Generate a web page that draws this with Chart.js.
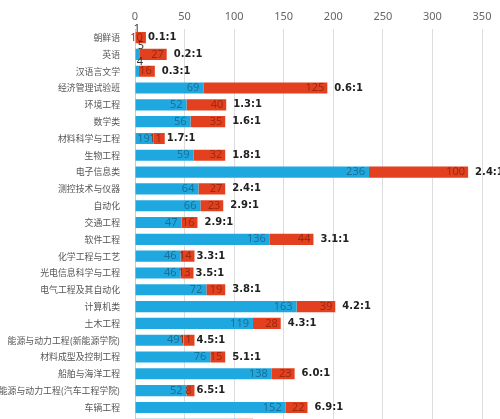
<!DOCTYPE html>
<html><head><meta charset="utf-8">
<script src="https://cdn.jsdelivr.net/npm/chart.js@4"></script>
<style>html,body{margin:0;padding:0;overflow:hidden;background:#fff;width:500px;height:419px}#w{width:500px;height:445px;position:relative}</style>
</head><body><div id="w"><canvas id="c"></canvas></div>
<script>
const categories=["朝鲜语","英语","汉语言文学","经济管理试验班","环境工程","数学类","材料科学与工程","生物工程","电子信息类","测控技术与仪器","自动化","交通工程","软件工程","化学工程与工艺","光电信息科学与工程","电气工程及其自动化","计算机类","土木工程","能源与动力工程(新能源学院)","材料成型及控制工程","船舶与海洋工程","能源与动力工程(汽车工程学院)","车辆工程","焊接技术与工程"];
const blueValues=[1,5,4,69,52,56,19,59,236,64,66,47,136,46,46,72,163,119,49,76,138,52,152,103];
const redValues=[10,27,16,125,40,35,11,32,100,27,23,16,44,14,13,19,39,28,11,15,23,8,22,16];
const ratioLabels=["0.1:1","0.2:1","0.3:1","0.6:1","1.3:1","1.6:1","1.7:1","1.8:1","2.4:1","2.4:1","2.9:1","2.9:1","3.1:1","3.3:1","3.5:1","3.8:1","4.2:1","4.3:1","4.5:1","5.1:1","6.0:1","6.5:1","6.9:1","6.4:1"];
const xTicks=[0,50,100,150,200,250,300,350];
const labelPlugin={id:'lbl',afterDatasetsDraw(chart){
 const ctx=chart.ctx,mb=chart.getDatasetMeta(0),mr=chart.getDatasetMeta(1);
 ctx.save();ctx.textBaseline='middle';
 mb.data.forEach((b,i)=>{
  const r=mr.data[i];
  ctx.font='11px "Noto Sans"';
  if(blueValues[i]>=10){ctx.fillStyle='#1b6f95';ctx.textAlign='right';ctx.fillText(blueValues[i],b.x-4,b.y);}
  else{ctx.fillStyle='#333';ctx.textAlign='center';ctx.fillText(blueValues[i],b.x+1,b.y-9);}
  ctx.fillStyle='#9b2a10';ctx.textAlign='right';ctx.fillText(redValues[i],r.x-3,r.y);
  ctx.font='bold 10px "DejaVu Sans"';ctx.fillStyle='#222';ctx.textAlign='left';
  ctx.fillText(ratioLabels[i],r.x+(redValues[i]<15?2:7),r.y);
 });
 ctx.restore();}};
new Chart(document.getElementById('c'),{type:'bar',
 data:{labels:categories,datasets:[
  {data:blueValues,backgroundColor:'#1fa8e0',barPercentage:0.66,categoryPercentage:1},
  {data:redValues,backgroundColor:'#e2401e',barPercentage:0.66,categoryPercentage:1}]},
 options:{indexAxis:'y',responsive:true,maintainAspectRatio:false,animation:false,
  layout:{padding:{left:0,right:18,top:4,bottom:0}},
  plugins:{legend:{display:false},tooltip:{enabled:false}},
  scales:{
   x:{stacked:true,position:'top',min:0,max:350,afterBuildTicks(a){a.ticks=xTicks.map(v=>({value:v}));},
      grid:{color:'#dcdcdc',drawTicks:false},border:{display:false},
      ticks:{color:'#666',font:{size:11,family:'"Noto Sans"'},padding:6}},
   y:{stacked:true,grid:{display:false},border:{color:'#ccc'},
      ticks:{color:'#555',font:{size:8.9,family:'"Noto Sans CJK SC"'},padding:7},afterFit(a){a.width=135;}}
  }},
 plugins:[labelPlugin]});
</script></body></html>
